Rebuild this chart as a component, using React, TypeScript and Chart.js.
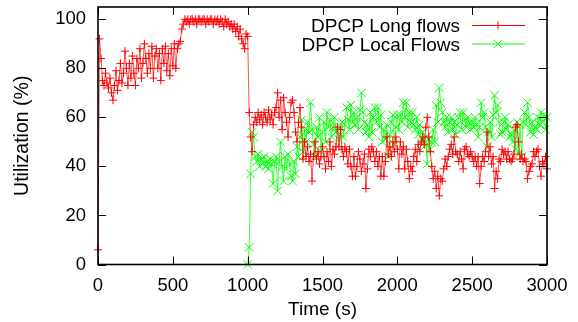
import React, { useEffect, useRef } from 'react';
import { Chart, registerables } from 'chart.js';

Chart.register(...registerables);

// sampling of both series (seconds)
const timeStep = 10;
const longStart = 0;
const localStart = 1000;

const seriesLabels = ['DPCP Long flows', 'DPCP Local Flows'];

// DPCP Long flows, utilization (%) every 10 s from t = 0
const longFlows = [
  6, 92, 84, 75, 73, 78, 74, 72, 76, 70,
  67, 73, 79, 71, 75, 82, 74, 78, 87, 80,
  73, 82, 76, 85, 78, 73, 84, 80, 88, 76,
  82, 90, 84, 78, 86, 80, 89, 76, 85, 88,
  80, 86, 75, 88, 82, 89, 79, 86, 77, 88,
  81, 90, 80, 88, 90, 91, 96, 98, 100, 99,
  100, 98, 100, 100, 99, 100, 98, 100, 100, 99,
  100, 100, 98, 100, 99, 100, 100, 98, 100, 99,
  100, 98, 100, 99, 97, 100, 98, 99, 97, 98,
  96, 98, 95, 97, 93, 96, 92, 90, 88, 94,
  93, 62, 52, 46, 57, 60, 58, 62, 59, 61,
  57, 62, 60, 58, 63, 59, 61, 57, 62, 64,
  70, 60, 67, 55, 68, 62, 58, 52, 60, 66,
  67, 62, 54, 50, 58, 64, 56, 43, 50, 44,
  48, 42, 45, 34, 44, 50, 43, 46, 41, 44,
  48, 44, 39, 46, 42, 50, 40, 47, 45, 48,
  56, 48, 55, 47, 44, 48, 46, 41, 47, 40,
  36, 44, 36, 40, 46, 43, 38, 41, 45, 31,
  39, 47, 44, 48, 46, 42, 46, 40, 44, 36,
  44, 36, 42, 52, 45, 48, 44, 50, 46, 52,
  47, 39, 50, 45, 48, 39, 47, 42, 35, 40,
  38, 44, 47, 42, 49, 46, 50, 52, 49, 56,
  60, 52, 46, 40, 35, 38, 31, 36, 28, 35,
  34, 39, 43, 40, 44, 47, 49, 45, 52, 46,
  45, 42, 46, 43, 39, 47, 48, 45, 44, 46,
  44, 42, 44, 40, 44, 33, 40, 44, 42, 46,
  54, 44, 48, 41, 44, 31, 38, 35, 43, 42,
  47, 45, 46, 43, 46, 43, 42, 43, 45, 56,
  57, 50, 43, 45, 42, 43, 42, 35, 38, 40,
  41, 46, 44, 46, 47, 40, 36, 42, 41, 44,
  39,
];

// DPCP Local Flows, utilization (%) every 10 s from t = 1000
const localFlows = [
  0, 7, 37, 54, 52, 44, 42, 45, 40, 43,
  41, 44, 40, 42, 39, 43, 41, 33, 42, 44,
  30, 42, 50, 40, 34, 44, 39, 45, 41, 36,
  34, 42, 37, 48, 44, 52, 59, 46, 55, 50,
  58, 54, 66, 55, 49, 44, 56, 52, 60, 46,
  54, 58, 50, 62, 56, 59, 52, 56, 60, 54,
  56, 51, 53, 58, 52, 57, 64, 59, 55, 65,
  58, 62, 57, 60, 55, 63, 70, 62, 58, 54,
  57, 52, 62, 54, 60, 64, 58, 64, 56, 61,
  50, 55, 51, 57, 44, 53, 58, 61, 49, 56,
  61, 55, 61, 58, 66, 60, 66, 56, 62, 58,
  62, 57, 55, 60, 53, 57, 50, 54, 48, 52,
  41, 51, 47, 50, 55, 50, 65, 58, 72, 66,
  62, 58, 56, 60, 54, 58, 60, 55, 58, 53,
  57, 60, 62, 55, 62, 59, 56, 60, 58, 55,
  58, 56, 60, 57, 52, 56, 66, 60, 62, 56,
  48, 54, 58, 52, 61, 69, 62, 65, 58, 53,
  54, 58, 60, 55, 57, 52, 53, 50, 55, 47,
  58, 45, 57, 44, 58, 62, 57, 66, 60, 54,
  58, 53, 56, 55, 60, 57, 62, 58, 61, 55,
  60,
];

const xTicks = [0, 500, 1000, 1500, 2000, 2500, 3000];
const yTicks = [0, 20, 40, 60, 80, 100];

const FONT = '"Liberation Sans", Arial, Helvetica, sans-serif';

const toPoints = (vals: number[], start: number) =>
  vals.map((v, i) => ({ x: start + i * timeStep, y: v }));

function drawMarker(ctx: CanvasRenderingContext2D, style: string, x: number, y: number, r: number) {
  ctx.beginPath();
  if (style === 'cross') {
    ctx.moveTo(x - r, y);
    ctx.lineTo(x + r, y);
    ctx.moveTo(x, y - r);
    ctx.lineTo(x, y + r);
  } else {
    const d = r * Math.SQRT1_2;
    ctx.moveTo(x - d, y - d);
    ctx.lineTo(x + d, y + d);
    ctx.moveTo(x - d, y + d);
    ctx.lineTo(x + d, y - d);
  }
  ctx.stroke();
}

const framePlugin = {
  id: 'gnuFrame',
  afterDatasetsDraw(chart: any) {
    const { ctx, chartArea, scales } = chart;
    const { left, right, top, bottom } = chartArea;
    const xs = scales.x;
    const ys = scales.y;
    const L = 8;
    ctx.save();
    ctx.strokeStyle = '#000';
    ctx.lineWidth = 1;
    ctx.beginPath();
    xTicks.forEach((v) => {
      const px = Math.round(xs.getPixelForValue(v)) + 0.5;
      ctx.moveTo(px, bottom);
      ctx.lineTo(px, bottom - L);
      ctx.moveTo(px, top);
      ctx.lineTo(px, top + L);
    });
    yTicks.forEach((v) => {
      const py = Math.round(ys.getPixelForValue(v)) + 0.5;
      ctx.moveTo(left, py);
      ctx.lineTo(left + L, py);
      ctx.moveTo(right, py);
      ctx.lineTo(right - L, py);
    });
    ctx.stroke();
    ctx.lineWidth = 1.6;
    ctx.strokeRect(left, top, right - left, bottom - top);

    // key (gnuplot style: text right-aligned, sample on the right)
    ctx.font = `19px ${FONT}`;
    ctx.textAlign = 'right';
    ctx.textBaseline = 'alphabetic';
    chart.data.datasets.forEach((ds: any, i: number) => {
      const cy = top + 18 + i * 18.5;
      ctx.fillStyle = '#000';
      ctx.fillText(ds.label, right - 87, cy + 7);
      ctx.strokeStyle = ds.pointBorderColor;
      ctx.lineWidth = 1;
      ctx.beginPath();
      ctx.moveTo(right - 75, cy + 0.5);
      ctx.lineTo(right - 22, cy + 0.5);
      ctx.stroke();
      drawMarker(ctx, ds.pointStyle, right - 49, cy + 0.5, ds.pointRadius);
    });
    ctx.restore();
  },
};

export default function App() {
  const ref = useRef<HTMLCanvasElement | null>(null);

  useEffect(() => {
    if (!ref.current) return;
    Chart.defaults.font.family = FONT;
    Chart.defaults.color = '#000';
    const chart = new Chart(ref.current, {
      type: 'line',
      data: {
        datasets: [
          {
            label: seriesLabels[0],
            data: toPoints(longFlows, longStart),
            borderColor: 'rgba(255,0,0,0.7)',
            backgroundColor: '#ff0000',
            borderWidth: 1,
            pointStyle: 'cross',
            pointRadius: 4,
            pointBorderWidth: 1,
            pointBorderColor: '#ff0000',
            tension: 0,
            fill: false,
            clip: false as any,
          },
          {
            label: seriesLabels[1],
            data: toPoints(localFlows, localStart),
            borderColor: 'rgba(0,255,0,0.75)',
            backgroundColor: '#00ff00',
            borderWidth: 1,
            pointStyle: 'crossRot',
            pointRadius: 6,
            pointBorderWidth: 1,
            pointBorderColor: '#00ff00',
            tension: 0,
            fill: false,
            clip: false as any,
          },
        ],
      },
      options: {
        animation: false,
        responsive: false,
        maintainAspectRatio: false,
        layout: { padding: { left: 0, top: 7, right: 31, bottom: 0 } },
        plugins: {
          legend: { display: false },
          tooltip: { enabled: false },
        },
        scales: {
          x: {
            type: 'linear',
            min: 0,
            max: 3000,
            afterFit: (s: any) => {
              s.height = 57.5;
              s.paddingLeft = 0;
              s.paddingRight = 0;
            },
            afterBuildTicks: (s: any) => {
              s.ticks = xTicks.map((v) => ({ value: v }));
            },
            grid: { display: false, drawTicks: false },
            border: { display: false },
            ticks: {
              font: { size: 18.5 },
              padding: 10,
              maxRotation: 0,
              autoSkip: false,
              callback: (v: any) => String(v),
            },
            title: {
              display: true,
              text: 'Time (s)',
              font: { size: 19 },
              padding: { top: 0, bottom: 1 },
            },
          },
          y: {
            type: 'linear',
            min: 0,
            max: 105,
            afterFit: (s: any) => {
              s.width = 98;
              s.paddingTop = 0;
              s.paddingBottom = 0;
            },
            afterBuildTicks: (s: any) => {
              s.ticks = yTicks.map((v) => ({ value: v }));
            },
            grid: { display: false, drawTicks: false },
            border: { display: false },
            ticks: {
              font: { size: 18.5 },
              padding: 12,
              autoSkip: false,
              callback: (v: any) => String(v),
            },
            title: {
              display: true,
              text: 'Utilization (%)',
              font: { size: 19.5 },
              padding: { top: 11, bottom: 0 },
            },
          },
        },
      },
      plugins: [framePlugin],
    });
    return () => chart.destroy();
  }, []);

  return (
    <div style={{ position: 'fixed', left: 0, top: 0, width: 578, height: 322, background: '#fff' }}>
      <canvas ref={ref} width={578} height={322} style={{ width: 578, height: 322, display: 'block' }} />
    </div>
  );
}
